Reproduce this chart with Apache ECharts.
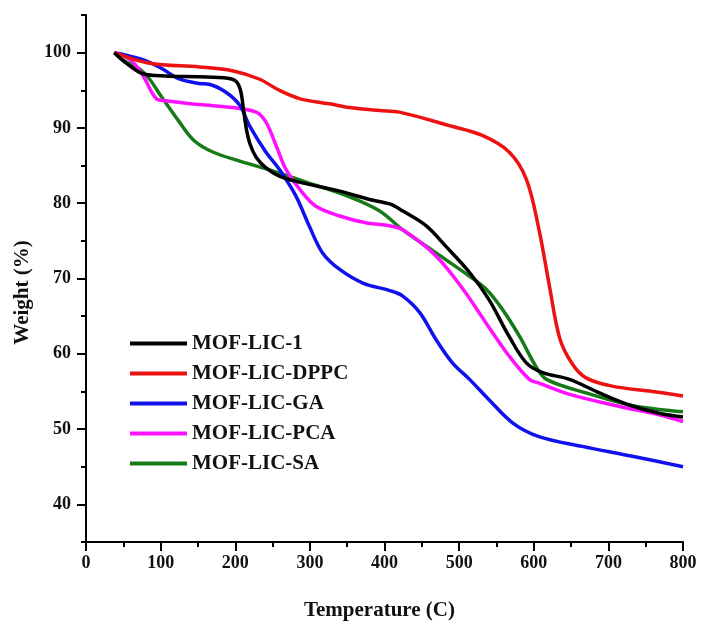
<!DOCTYPE html>
<html>
<head>
<meta charset="utf-8">
<script src="https://cdn.jsdelivr.net/npm/echarts@6/dist/echarts.min.js"></script>
<style>html,body{margin:0;padding:0;background:#fff;}#c{width:701px;height:627px;}</style>
</head>
<body>
<div id="c"></div>
<script>
var seriesNames = ['MOF-LIC-1', 'MOF-LIC-DPPC', 'MOF-LIC-GA', 'MOF-LIC-PCA', 'MOF-LIC-SA'];
var xTicks = [0, 100, 200, 300, 400, 500, 600, 700, 800];
var yTicks = [40, 50, 60, 70, 80, 90, 100];

var tBlack = [38, 54, 76, 107, 152, 190, 201, 207, 211, 215, 220, 228, 240, 259, 286, 340, 380, 407, 424, 456, 482, 514, 540, 567, 590, 612, 648, 688, 728, 768, 800];
var wBlack = [100, 98.6, 97.2, 96.9, 96.8, 96.6, 96.2, 95.0, 92.5, 89.8, 87.8, 86.1, 84.8, 83.6, 82.8, 81.6, 80.5, 79.9, 79.0, 77.0, 74.3, 70.8, 67.2, 62.3, 58.8, 57.5, 56.6, 54.8, 53.2, 52.1, 51.6];

var tRed = [38, 85, 152, 196, 232, 259, 286, 326, 353, 393, 420, 487, 531, 567, 590, 607, 621, 635, 652, 670, 705, 759, 800];
var wRed = [100, 98.6, 98.1, 97.6, 96.5, 95.0, 93.9, 93.2, 92.7, 92.3, 92.1, 90.3, 89.0, 86.8, 83.2, 76.5, 69.0, 62.0, 58.6, 56.8, 55.7, 55.0, 54.4];

var tBlue = [38, 72, 98, 125, 152, 165, 188, 206, 219, 241, 259, 281, 299, 317, 340, 371, 407, 424, 447, 469, 491, 514, 540, 572, 607, 665, 732, 800];
var wBlue = [100, 99.2, 98.1, 96.5, 95.9, 95.8, 94.7, 93.0, 90.3, 86.8, 84.5, 81.0, 77.0, 73.4, 71.2, 69.4, 68.4, 67.7, 65.5, 61.9, 58.8, 56.6, 53.9, 50.8, 49.0, 47.7, 46.4, 45.0];

var tMagenta = [38, 60, 76, 94, 107, 152, 197, 228, 241, 255, 268, 290, 308, 340, 375, 407, 424, 469, 505, 536, 567, 594, 607, 648, 715, 768, 800];
var wMagenta = [100, 99, 97.0, 93.9, 93.6, 93.1, 92.7, 92.1, 90.8, 87.6, 84.5, 81.4, 79.6, 78.3, 77.4, 77.0, 76.5, 73.0, 68.6, 64.1, 59.7, 56.6, 56.1, 54.6, 53.0, 51.9, 51.0];

var tGreen = [38, 50, 72, 85, 100, 125, 145, 170, 206, 250, 295, 349, 393, 424, 469, 514, 536, 558, 581, 603, 617, 670, 728, 768, 800];
var wGreen = [100, 99.0, 97.8, 96.5, 94.3, 90.8, 88.3, 86.8, 85.6, 84.3, 82.8, 81.0, 79.0, 76.5, 73.4, 70.3, 68.6, 65.9, 62.3, 58.3, 56.6, 54.8, 53.2, 52.6, 52.3];

var colors = ['#000000', '#ee1111', '#1111ee', '#ff11ff', '#167a16'];

function pairs(t, w) { return t.map(function (v, i) { return [v, w[i]]; }); }
var allData = [pairs(tBlack, wBlack), pairs(tRed, wRed), pairs(tBlue, wBlue), pairs(tMagenta, wMagenta), pairs(tGreen, wGreen)];

var font = '"Liberation Serif", "Times New Roman", serif';
var chart = echarts.init(document.getElementById('c'), null, { renderer: 'canvas' });

var axisLineStyle = { show: true, lineStyle: { color: '#000', width: 2 } };

chart.setOption({
  backgroundColor: '#fff',
  animation: false,
  grid: { left: 86, right: 18, top: 15, bottom: 85, containLabel: false },
  legend: {
    data: seriesNames,
    orient: 'vertical',
    left: 130, top: 333,
    icon: 'rect',
    itemWidth: 57, itemHeight: 4,
    itemGap: 9,
    padding: 0,
    textStyle: { fontFamily: font, fontWeight: 'bold', fontSize: 21, lineHeight: 21, color: '#111' }
  },
  xAxis: [{
    type: 'value', min: 0, max: 800, interval: 100,
    axisLine: axisLineStyle,
    axisTick: { show: true, length: 9, lineStyle: { color: '#000', width: 2 } },
    axisLabel: { fontFamily: font, fontWeight: 'bold', fontSize: 18, color: '#111', margin: 12 },
    splitLine: { show: false },
    name: 'Temperature (C)', nameLocation: 'middle', nameGap: 58,
    nameTextStyle: { fontFamily: font, fontWeight: 'bold', fontSize: 21, color: '#111', padding: [0, 10, 0, 0] }
  }, {
    type: 'value', min: 0, max: 800, interval: 50, position: 'bottom',
    axisLine: { show: false },
    axisTick: { show: true, length: 5, lineStyle: { color: '#000', width: 2 } },
    axisLabel: { show: false },
    splitLine: { show: false }
  }],
  yAxis: [{
    type: 'value', min: 35, max: 105, interval: 5,
    axisLine: axisLineStyle,
    axisTick: { show: true, length: 5, lineStyle: { color: '#000', width: 2 } },
    axisLabel: {
      fontFamily: font, fontWeight: 'bold', fontSize: 18, color: '#111', margin: 15,
      formatter: function (v) { return yTicks.indexOf(v) >= 0 ? String(v) : ''; }
    },
    splitLine: { show: false },
    name: 'Weight (%)', nameLocation: 'middle', nameGap: 48,
    nameTextStyle: { fontFamily: font, fontWeight: 'bold', fontSize: 21, color: '#111', padding: [0, 28, 0, 0] }
  }, {
    type: 'value', min: 35, max: 105, position: 'left',
    axisLine: { show: false },
    axisTick: { show: true, length: 9, customValues: yTicks, lineStyle: { color: '#000', width: 2 } },
    axisLabel: { show: false },
    splitLine: { show: false }
  }],
  series: seriesNames.map(function (n, i) {
    return {
      name: n, type: 'line', xAxisIndex: 0, yAxisIndex: 0,
      data: allData[i], smooth: 0.35, showSymbol: false, symbol: 'none',
      lineStyle: { color: colors[i], width: 3.5 }, itemStyle: { color: colors[i] },
      z: 10 - i
    };
  })
});
</script>
</body>
</html>
